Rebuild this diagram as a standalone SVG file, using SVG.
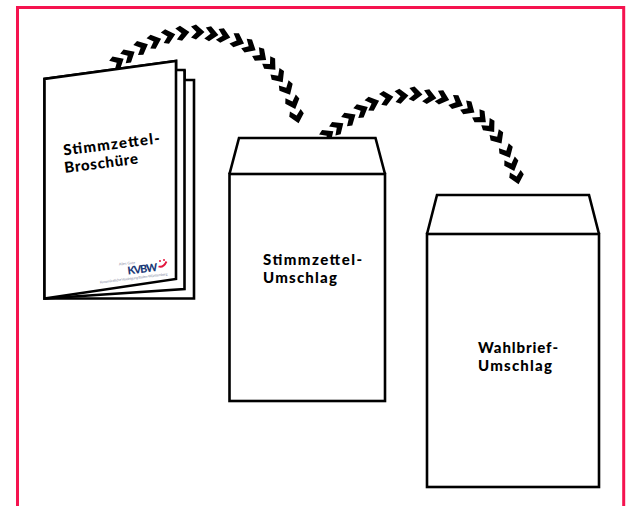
<svg xmlns="http://www.w3.org/2000/svg" width="633" height="506" viewBox="0 0 633 506">
<style>
.o{fill:#fff;stroke:#000;stroke-width:2.6;stroke-linejoin:miter}
.t{font-family:Lato,"Liberation Sans",sans-serif;font-weight:900;font-size:15px;fill:#000}
.s{font-family:Lato,"Liberation Sans",sans-serif;font-size:3.6px;fill:#8a8fa8}
</style>
<defs><polygon id="c" points="-7,-5.500 -2,-7.500 6.500,0 -2,7.500 -7,5.500 -1.500,0" fill="#000"/></defs>
<rect width="633" height="506" fill="#fff"/>
<path d="M17.500 506V7.500H623.700V506" fill="none" stroke="#f5134f" stroke-width="3"/>
<g id="connectors">
<use href="#c" transform="translate(118 62) rotate(-30)"/>
<use href="#c" transform="translate(129 55) rotate(-30)"/>
<use href="#c" transform="translate(142 47) rotate(-25)"/>
<use href="#c" transform="translate(155 41) rotate(-20)"/>
<use href="#c" transform="translate(169 36) rotate(-15)"/>
<use href="#c" transform="translate(183 33) rotate(-8)"/>
<use href="#c" transform="translate(198 32) rotate(0)"/>
<use href="#c" transform="translate(212 34) rotate(8)"/>
<use href="#c" transform="translate(224 36) rotate(14)"/>
<use href="#c" transform="translate(238 41) rotate(22)"/>
<use href="#c" transform="translate(250 47) rotate(30)"/>
<use href="#c" transform="translate(261 56) rotate(38)"/>
<use href="#c" transform="translate(271 65) rotate(47)"/>
<use href="#c" transform="translate(279 77) rotate(55)"/>
<use href="#c" transform="translate(287 89) rotate(62)"/>
<use href="#c" transform="translate(293 103) rotate(70)"/>
<use href="#c" transform="translate(297 117) rotate(76)"/>
<use href="#c" transform="translate(328 135) rotate(-35)"/>
<use href="#c" transform="translate(338 127) rotate(-35)"/>
<use href="#c" transform="translate(350 118) rotate(-32)"/>
<use href="#c" transform="translate(362 110) rotate(-27)"/>
<use href="#c" transform="translate(373 103) rotate(-20)"/>
<use href="#c" transform="translate(387 98) rotate(-12)"/>
<use href="#c" transform="translate(402 96) rotate(-5)"/>
<use href="#c" transform="translate(416 94) rotate(4)"/>
<use href="#c" transform="translate(430 97) rotate(10)"/>
<use href="#c" transform="translate(443 98) rotate(17)"/>
<use href="#c" transform="translate(457 103) rotate(25)"/>
<use href="#c" transform="translate(469 109) rotate(33)"/>
<use href="#c" transform="translate(481 118) rotate(42)"/>
<use href="#c" transform="translate(490 127) rotate(50)"/>
<use href="#c" transform="translate(498 138) rotate(57)"/>
<use href="#c" transform="translate(507 152) rotate(63)"/>
<use href="#c" transform="translate(512 165) rotate(70)"/>
<use href="#c" transform="translate(517 178) rotate(76)"/>
</g>
<g id="broschuere">
<path class="o" d="M44.500 298.500H194V80H184.500V70H176V61L44.500 79Z"/>
<path class="o" d="M44.500 298.500L184.500 289V70"/>
<path class="o" d="M44.500 298.500L176 279V61L44.500 79Z"/>
<text class="t" transform="translate(64 155.500) rotate(-7.300)" textLength="97">Stimmzettel-</text>
<text class="t" transform="translate(65 173) rotate(-7.300)" textLength="74">Broschüre</text>
<text class="s" transform="translate(119 265.500) rotate(-6)">Alles Gute</text>
<text transform="translate(128 274.500) rotate(-7)" font-family="Lato,'Liberation Sans',sans-serif" font-weight="900" font-size="10.800" fill="#1d3a78" textLength="30">KVBW</text>
<path d="M158.500 266.500q5 1.500 8-5" fill="none" stroke="#e3173e" stroke-width="1.800"/>
<circle cx="160" cy="261" r="1" fill="#e3173e"/><circle cx="164" cy="260" r="1" fill="#e3173e"/>
<text class="s" transform="translate(100 283.500) rotate(-7)" textLength="68">Kassenärztliche Vereinigung Baden-Württemberg</text>
</g>
<g id="stimmzettel-umschlag">
<path class="o" d="M229.500 174L239 138H375.500L385 174"/>
<rect class="o" x="229.500" y="174" width="155.500" height="227"/>
<text class="t" x="263" y="265" textLength="99">Stimmzettel-</text>
<text class="t" x="263" y="283" textLength="74">Umschlag</text>
</g>
<g id="wahlbrief-umschlag">
<path class="o" d="M427 234L437 195H589L599 234"/>
<rect class="o" x="427" y="234" width="172" height="253"/>
<text class="t" x="478" y="353" textLength="80">Wahlbrief-</text>
<text class="t" x="478" y="371" textLength="74">Umschlag</text>
</g>
</svg>
